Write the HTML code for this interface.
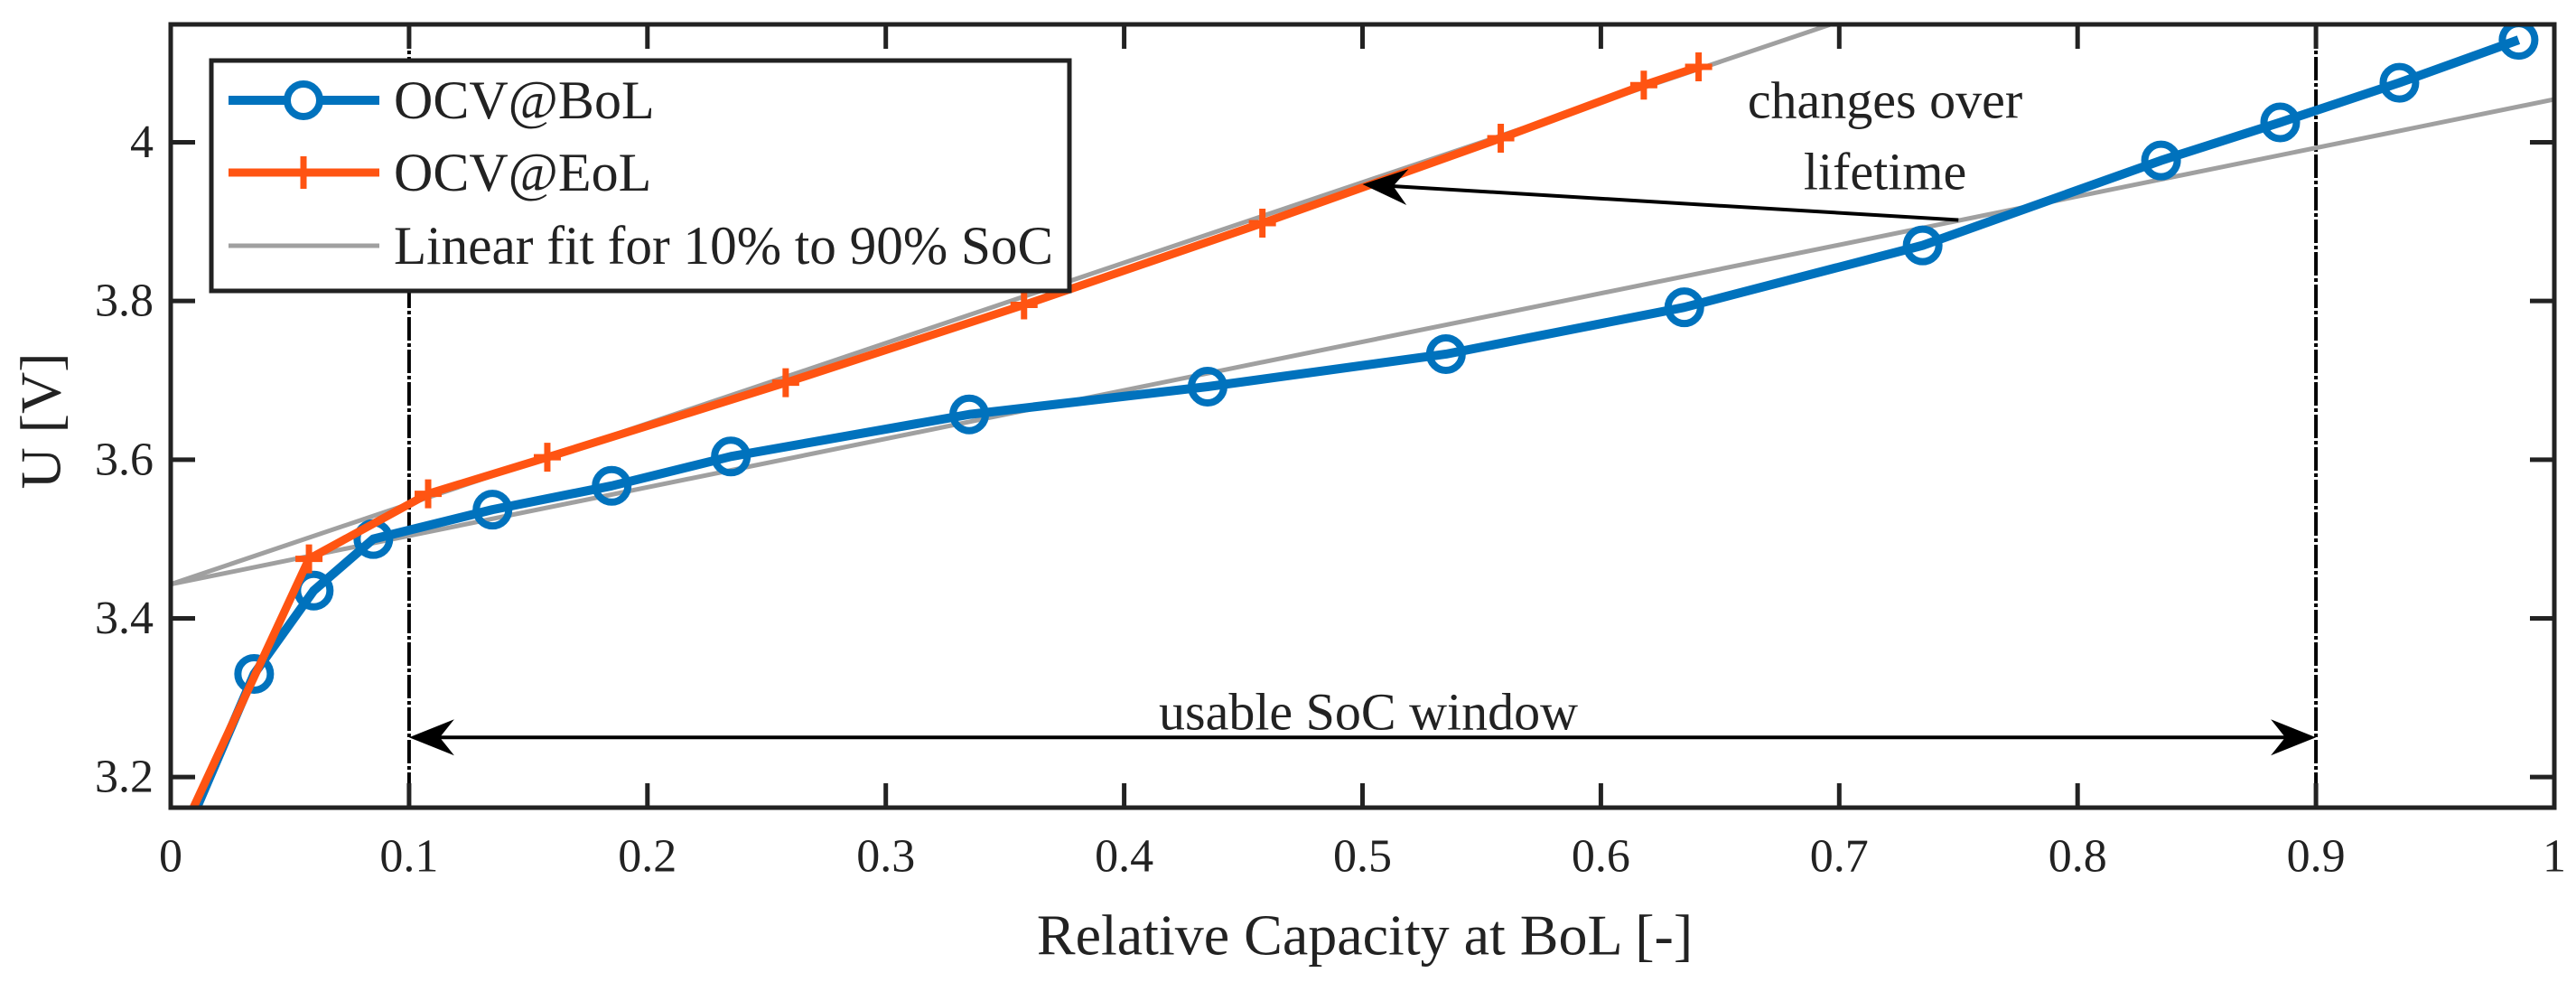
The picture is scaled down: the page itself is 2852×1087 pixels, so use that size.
<!DOCTYPE html>
<html><head><meta charset="utf-8"><style>
html,body{margin:0;padding:0;background:#fff;}
svg{display:block;font-family:"Liberation Serif",serif;}
</style></head><body>
<svg id="chart" width="2852" height="1087" viewBox="0 0 2852 1087"></svg>
<script>
const xTicks=[0,0.1,0.2,0.3,0.4,0.5,0.6,0.7,0.8,0.9,1];
const xTickLabels=["0","0.1","0.2","0.3","0.4","0.5","0.6","0.7","0.8","0.9","1"];
const yTicks=[3.2,3.4,3.6,3.8,4.0];
const yTickLabels=["3.2","3.4","3.6","3.8","4"];
const bolX=[0.005,0.035,0.06,0.085,0.135,0.185,0.235,0.335,0.435,0.535,0.635,0.735,0.835,0.885,0.935,0.985];
const bolY=[3.12,3.33,3.435,3.50,3.537,3.567,3.604,3.657,3.692,3.733,3.792,3.87,3.977,4.025,4.075,4.129];
const bolMarker=[0,1,1,1,1,1,1,1,1,1,1,1,1,1,1,1];
const eolX=[0.0,0.058,0.108,0.158,0.258,0.358,0.458,0.558,0.618,0.641];
const eolY=[3.10,3.475,3.557,3.603,3.697,3.795,3.898,4.005,4.072,4.095];
const eolMarker=[0,1,1,1,1,1,1,1,1,1];
const fitBolX=[0,1], fitBolY=[3.443,4.054];
const fitEolX=[0,0.696], fitEolY=[3.443,4.148];

const L=189,R=2828,T=27,B=894;
const X0=0,X1=1,Y0=3.1615,Y1=4.1485;
const sx=v=>L+(v-X0)/(X1-X0)*(R-L);
const sy=v=>B-(v-Y0)/(Y1-Y0)*(B-T);
const NS="http://www.w3.org/2000/svg";
const svg=document.getElementById('chart');
function mk(tag,attrs,parent){const e=document.createElementNS(NS,tag);for(const k in attrs)e.setAttribute(k,attrs[k]);(parent||svg).appendChild(e);return e;}

const defs=mk('defs',{});
const cp=mk('clipPath',{id:'plotclip'},defs);
mk('rect',{x:L,y:T,width:R-L,height:B-T},cp);
const plot=mk('g',{'clip-path':'url(#plotclip)'});



[0.1,0.9].forEach(v=>{
  const l=mk('line',{x1:sx(v),x2:sx(v),y1:T,y2:B,stroke:'#000','stroke-width':4,'stroke-dasharray':'26,3,4,3'},plot);
  
  
});

function polyline(xs,ys,attrs,name,parent){
  const pts=xs.map((x,i)=>sx(x)+','+sy(ys[i])).join(' ');
  const p=mk('polyline',Object.assign({points:pts,fill:'none'},attrs),parent);
  
  
  return p;
}
polyline(fitBolX,fitBolY,{stroke:'#a0a0a0','stroke-width':5},'linear-fit-bol',plot);
polyline(fitEolX,fitEolY,{stroke:'#a0a0a0','stroke-width':5},'linear-fit-eol',plot);

polyline(bolX,bolY,{stroke:'#0072BD','stroke-width':10,'stroke-linejoin':'round'},'ocv-bol-line',plot);
bolX.forEach((x,i)=>{ if(!bolMarker[i])return;
  const c=mk('circle',{cx:sx(x),cy:sy(bolY[i]),r:18,fill:'none',stroke:'#0072BD','stroke-width':8},plot);
  
  
});
polyline(eolX,eolY,{stroke:'#FF5412','stroke-width':9,'stroke-linejoin':'round'},'ocv-eol-line',plot);
eolX.forEach((x,i)=>{ if(!eolMarker[i])return;
  const g=mk('path',{d:`M${sx(x)-15},${sy(eolY[i])}h30M${sx(x)},${sy(eolY[i])-16}v32`,stroke:'#FF5412','stroke-width':7},plot);
  
  
});

function arrowHead(x,y,dx,dy,name){
  const len=Math.hypot(dx,dy),ux=dx/len,uy=dy/len,px=-uy,py=ux;
  const d=`M${x},${y} L${x-ux*50+px*20},${y-uy*50+py*20} L${x-ux*34},${y-uy*34} L${x-ux*50-px*20},${y-uy*50-py*20}Z`;
  const p=mk('path',{d:d,fill:'#000'});
  
  
}
const ax1=sx(0.75),ay1=sy(3.902),ax2=sx(0.5),ay2=sy(3.947);
const la=mk('line',{x1:ax1,y1:ay1,x2:ax2+20,y2:ay2+(ay1-ay2)*20/(ax1-ax2),stroke:'#000','stroke-width':4});


arrowHead(ax2,ay2,ax2-ax1,ay2-ay1,'lifetime-arrow-head');

const uy=sy(3.25);
const lu=mk('line',{x1:sx(0.1)+20,y1:uy,x2:sx(0.9)-20,y2:uy,stroke:'#000','stroke-width':4});


arrowHead(sx(0.1),uy,-1,0,'usable-window-arrow-left');
arrowHead(sx(0.9),uy,1,0,'usable-window-arrow-right');

function text(str,x,y,size,anchor,name,extra){
  const t=mk('text',Object.assign({x:x,y:y,'font-size':size,'text-anchor':anchor,'dominant-baseline':'central',fill:'#222'},extra||{}));
  t.textContent=str;
  
  
  return t;
}
text('changes over',2087,111,58,'middle','annotation-changes-over');
text('lifetime',2087,190,58,'middle','annotation-lifetime');
text('usable SoC window',1515,788,58,'middle','annotation-usable-soc-window');

const box=mk('rect',{x:L,y:T,width:R-L,height:B-T,fill:'none',stroke:'#222','stroke-width':5});


xTicks.forEach((v,i)=>{
  const t=mk('path',{d:`M${sx(v)},${B}v-27M${sx(v)},${T}v27`,stroke:'#222','stroke-width':5});
  
  
  text(xTickLabels[i],sx(v),948,52,'middle','x-tick-label');
});
yTicks.forEach((v,i)=>{
  const t=mk('path',{d:`M${L},${sy(v)}h27M${R},${sy(v)}h-27`,stroke:'#222','stroke-width':5});
  
  
  text(yTickLabels[i],170,sy(v),52,'end','y-tick-label');
});
text('Relative Capacity at BoL [-]',1511,1035,64,'middle','x-axis-title');
text('U [V]',45,466,64,'middle','y-axis-title',{transform:'rotate(-90 45 466)'});

const lg=mk('g',{});


const lb=mk('rect',{x:234,y:67,width:950,height:255,fill:'#fff',stroke:'#222','stroke-width':5},lg);


const ly=[111,191,272];
let e=mk('line',{x1:253,x2:420,y1:ly[0],y2:ly[0],stroke:'#0072BD','stroke-width':10},lg);

e=mk('circle',{cx:336,cy:ly[0],r:18,fill:'#fff',stroke:'#0072BD','stroke-width':8},lg);

e=mk('line',{x1:253,x2:420,y1:ly[1],y2:ly[1],stroke:'#FF5412','stroke-width':9},lg);

e=mk('path',{d:`M320,${ly[1]}h32M336,${ly[1]-18}v36`,stroke:'#FF5412','stroke-width':7},lg);

e=mk('line',{x1:253,x2:420,y1:ly[2],y2:ly[2],stroke:'#a0a0a0','stroke-width':5},lg);

text('OCV@BoL',436,ly[0],60,'start','legend-entry-bol');
text('OCV@EoL',436,ly[1],60,'start','legend-entry-eol');
text('Linear fit for 10% to 90% SoC',436,ly[2],60,'start','legend-entry-fit',{textLength:730,lengthAdjust:'spacingAndGlyphs'});
</script>
</body></html>
